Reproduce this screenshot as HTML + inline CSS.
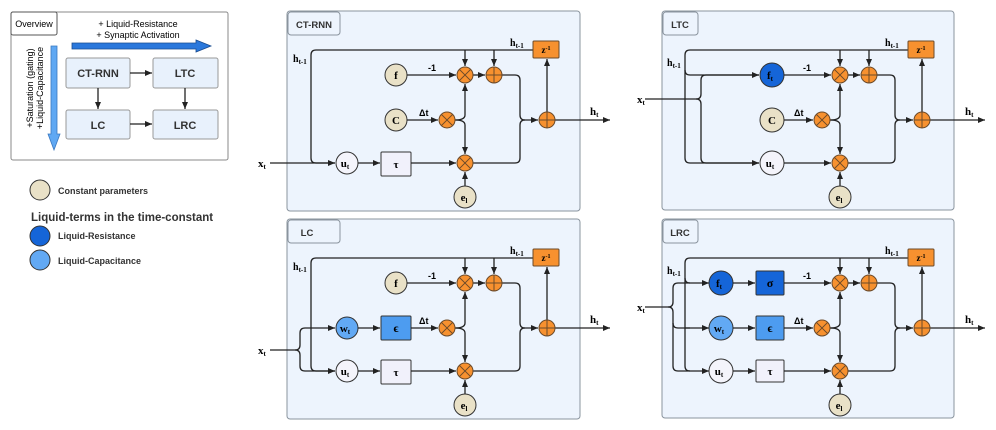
<!DOCTYPE html>
<html><head><meta charset="utf-8"><style>
body{margin:0;background:#fff}
svg{display:block}
.s{font-family:"Liberation Sans",sans-serif}
.r{font-family:"Liberation Serif",serif;font-weight:bold}
.ln{fill:none;stroke:#222;stroke-width:1.3}
.om{fill:#f7912f;stroke:#6b4a2a;stroke-width:1}
.ox{stroke:#6b4a2a;stroke-width:1}
</style></head><body>
<svg width="996" height="430" viewBox="0 0 996 430" xmlns="http://www.w3.org/2000/svg">
<defs>
<marker id="a" markerWidth="8" markerHeight="8" refX="7" refY="4" orient="auto" markerUnits="userSpaceOnUse"><path d="M0,1 L7,4 L0,7 Z" fill="#222"/></marker>
</defs>

<!-- Overview -->
<rect x="11" y="12" width="217" height="148" fill="#fff" stroke="#888" rx="2"/>
<rect x="11" y="12" width="46" height="23" fill="#fff" stroke="#555" rx="2"/>
<text x="34" y="27" class="s" font-size="9" text-anchor="middle">Overview</text>
<text x="138" y="27" class="s" font-size="9" text-anchor="middle">+ Liquid-Resistance</text>
<text x="138" y="38" class="s" font-size="9" text-anchor="middle">+ Synaptic Activation</text>
<polygon points="72,43 196,43 196,40 211,46 196,52 196,49 72,49" fill="#2a78dc" stroke="#1a4c90" stroke-width="0.8"/>
<polygon points="51,46 57,46 57,134 60,134 54,150 48,134 51,134" fill="#5fa8f3" stroke="#3a78c0" stroke-width="0.8"/>
<text transform="translate(33,88) rotate(-90)" class="s" font-size="9" text-anchor="middle">+Saturation (gating)</text>
<text transform="translate(43,88) rotate(-90)" class="s" font-size="9" text-anchor="middle">+Liquid-Capacitance</text>
<g class="s" font-size="11" font-weight="bold" text-anchor="middle" fill="#333">
<rect x="66" y="58" width="64" height="30" fill="#e8f1fc" stroke="#999" rx="2"/><text x="98" y="77">CT-RNN</text>
<rect x="153" y="58" width="65" height="30" fill="#e8f1fc" stroke="#999" rx="2"/><text x="185" y="77">LTC</text>
<rect x="66" y="110" width="64" height="29" fill="#e8f1fc" stroke="#999" rx="2"/><text x="98" y="129">LC</text>
<rect x="153" y="110" width="65" height="29" fill="#e8f1fc" stroke="#999" rx="2"/><text x="185" y="129">LRC</text>
</g>
<line x1="130" y1="73" x2="152" y2="73" class="ln" marker-end="url(#a)"/>
<line x1="98" y1="88" x2="98" y2="109" class="ln" marker-end="url(#a)"/>
<line x1="185" y1="88" x2="185" y2="109" class="ln" marker-end="url(#a)"/>
<line x1="130" y1="124" x2="152" y2="124" class="ln" marker-end="url(#a)"/>

<!-- Legend -->
<circle cx="40" cy="190" r="10" fill="#e9e1c7" stroke="#333"/>
<text x="58" y="194" class="s" font-size="9" font-weight="bold" fill="#333">Constant parameters</text>
<text x="31" y="221" class="s" font-size="11.5" font-weight="bold" fill="#333">Liquid-terms in the time-constant</text>
<circle cx="40" cy="236" r="10" fill="#1565d8" stroke="#333"/>
<text x="58" y="239" class="s" font-size="9" font-weight="bold" fill="#333">Liquid-Resistance</text>
<circle cx="40" cy="260" r="10" fill="#62a9f4" stroke="#333"/>
<text x="58" y="264" class="s" font-size="9" font-weight="bold" fill="#333">Liquid-Capacitance</text>

<!-- ===== CT-RNN ===== -->
<g>
<rect x="287" y="11" width="293" height="200" fill="#edf4fd" stroke="#8a949e" rx="3"/>
<rect x="288" y="12" width="52" height="23" fill="#edf4fd" stroke="#8a949e" rx="3"/>
<text x="314" y="28" class="s" font-size="9.5" font-weight="bold" text-anchor="middle" fill="#333">CT-RNN</text>
<path d="M533,50 H316 Q311,50 311,55 V158 Q311,163 316,163 H335" class="ln" marker-end="url(#a)"/>
<line x1="270" y1="163" x2="335" y2="163" class="ln"/>
<text x="258" y="167" class="r" font-size="11">x<tspan font-size="7" dy="2">t</tspan></text>
<text x="293" y="62" class="r" font-size="10" font-weight="normal">h<tspan font-size="7" dy="2">t-1</tspan></text>
<circle cx="396" cy="75" r="11" fill="#e9e1c7" stroke="#333"/><text x="396" y="79" class="r" font-size="11" text-anchor="middle">f</text>
<line x1="407" y1="75" x2="456" y2="75" class="ln" marker-end="url(#a)"/>
<circle cx="396" cy="120" r="11" fill="#e9e1c7" stroke="#333"/><text x="396" y="124" class="r" font-size="11" text-anchor="middle">C</text>
<line x1="407" y1="120" x2="438" y2="120" class="ln" marker-end="url(#a)"/>
<circle cx="347" cy="163" r="11" fill="#f4f4fb" stroke="#333"/><text x="345" y="167" class="r" font-size="11" text-anchor="middle">u<tspan font-size="7" dy="2">t</tspan></text>
<line x1="358" y1="163" x2="380" y2="163" class="ln" marker-end="url(#a)"/>
<rect x="381" y="152" width="30" height="24" fill="#f1f1fb" stroke="#333" rx="1"/><text x="396" y="168" class="r" font-size="11" text-anchor="middle">τ</text>
<line x1="411" y1="163" x2="456" y2="163" class="ln" marker-end="url(#a)"/>
</g>

<!-- ===== LC ===== -->
<g transform="translate(0,208)">
<rect x="287" y="11" width="293" height="200" fill="#edf4fd" stroke="#8a949e" rx="3"/>
<rect x="288" y="12" width="52" height="23" fill="#edf4fd" stroke="#8a949e" rx="3"/>
<text x="307" y="28" class="s" font-size="9.5" font-weight="bold" text-anchor="middle" fill="#333">LC</text>
<path d="M533,50 H316 Q311,50 311,55 V158 Q311,163 316,163 H335" class="ln" marker-end="url(#a)"/>
<path d="M270,142 H295 Q300,142 300,137 V125 Q300,120 305,120 H335" class="ln" marker-end="url(#a)"/>
<path d="M295,142 Q300,142 300,147 V158 Q300,163 305,163 H335" class="ln"/>
<text x="258" y="146" class="r" font-size="11">x<tspan font-size="7" dy="2">t</tspan></text>
<text x="293" y="62" class="r" font-size="10" font-weight="normal">h<tspan font-size="7" dy="2">t-1</tspan></text>
<circle cx="396" cy="75" r="11" fill="#e9e1c7" stroke="#333"/><text x="396" y="79" class="r" font-size="11" text-anchor="middle">f</text>
<line x1="407" y1="75" x2="456" y2="75" class="ln" marker-end="url(#a)"/>
<circle cx="347" cy="120" r="11" fill="#62a9f4" stroke="#333"/><text x="345" y="124" class="r" font-size="11" text-anchor="middle">w<tspan font-size="7" dy="2">t</tspan></text>
<line x1="358" y1="120" x2="380" y2="120" class="ln" marker-end="url(#a)"/>
<rect x="381" y="108" width="30" height="24" fill="#4d9cf0" stroke="#333" rx="1"/><text x="396" y="124" class="r" font-size="12" text-anchor="middle">ϵ</text>
<line x1="411" y1="120" x2="438" y2="120" class="ln" marker-end="url(#a)"/>
<circle cx="347" cy="163" r="11" fill="#f4f4fb" stroke="#333"/><text x="345" y="167" class="r" font-size="11" text-anchor="middle">u<tspan font-size="7" dy="2">t</tspan></text>
<line x1="358" y1="163" x2="380" y2="163" class="ln" marker-end="url(#a)"/>
<rect x="381" y="152" width="30" height="24" fill="#f1f1fb" stroke="#333" rx="1"/><text x="396" y="168" class="r" font-size="11" text-anchor="middle">τ</text>
<line x1="411" y1="163" x2="456" y2="163" class="ln" marker-end="url(#a)"/>
</g>

<!-- ===== LTC ===== -->
<g transform="translate(375,0)">
<rect x="287" y="11" width="292" height="199" fill="#edf4fd" stroke="#8a949e" rx="3"/>
<rect x="288" y="12" width="35" height="23" fill="#edf4fd" stroke="#8a949e" rx="3"/>
<text x="305" y="28" class="s" font-size="9.5" font-weight="bold" text-anchor="middle" fill="#333">LTC</text>
<path d="M533,50 H315 Q310,50 310,55 V158 Q310,163 315,163 H384" class="ln" marker-end="url(#a)"/>
<path d="M310,70 Q310,75 315,75 H384" class="ln" marker-end="url(#a)"/>
<path d="M270,99 H321 Q326,99 326,94 V80 Q326,75 331,75 H384" class="ln"/>
<path d="M321,99 Q326,99 326,104 V158 Q326,163 331,163 H384" class="ln"/>
<text x="262" y="103" class="r" font-size="11">x<tspan font-size="7" dy="2">t</tspan></text>
<text x="292" y="66" class="r" font-size="10" font-weight="normal">h<tspan font-size="7" dy="2">t-1</tspan></text>
<circle cx="397" cy="75" r="12" fill="#1565d8" stroke="#333"/><text x="395" y="79" class="r" font-size="11" text-anchor="middle">f<tspan font-size="7" dy="2">t</tspan></text>
<line x1="409" y1="75" x2="456" y2="75" class="ln" marker-end="url(#a)"/>
<circle cx="397" cy="120" r="12" fill="#e9e1c7" stroke="#333"/><text x="397" y="124" class="r" font-size="11" text-anchor="middle">C</text>
<line x1="409" y1="120" x2="438" y2="120" class="ln" marker-end="url(#a)"/>
<circle cx="397" cy="163" r="12" fill="#f4f4fb" stroke="#333"/><text x="395" y="167" class="r" font-size="11" text-anchor="middle">u<tspan font-size="7" dy="2">t</tspan></text>
<line x1="409" y1="163" x2="456" y2="163" class="ln" marker-end="url(#a)"/>
</g>

<!-- ===== LRC ===== -->
<g transform="translate(375,208)">
<rect x="287" y="11" width="292" height="199" fill="#edf4fd" stroke="#8a949e" rx="3"/>
<rect x="288" y="12" width="35" height="23" fill="#edf4fd" stroke="#8a949e" rx="3"/>
<text x="305" y="28" class="s" font-size="9.5" font-weight="bold" text-anchor="middle" fill="#333">LRC</text>
<path d="M533,50 H315 Q310,50 310,55 V158 Q310,163 315,163 H334" class="ln" marker-end="url(#a)"/>
<path d="M310,70 Q310,75 315,75 H334" class="ln" marker-end="url(#a)"/>
<path d="M310,120 H334" class="ln" marker-end="url(#a)"/>
<path d="M270,99 H293 Q298,99 298,94 V80 Q298,75 303,75 H315" class="ln"/>
<path d="M293,99 Q298,99 298,104 V158 Q298,163 303,163 H315" class="ln"/>
<path d="M298,115 Q298,120 303,120 H315" class="ln"/>
<text x="262" y="103" class="r" font-size="11">x<tspan font-size="7" dy="2">t</tspan></text>
<text x="292" y="66" class="r" font-size="10" font-weight="normal">h<tspan font-size="7" dy="2">t-1</tspan></text>
<circle cx="346" cy="75" r="12" fill="#1565d8" stroke="#333"/><text x="344" y="79" class="r" font-size="11" text-anchor="middle">f<tspan font-size="7" dy="2">t</tspan></text>
<line x1="358" y1="75" x2="380" y2="75" class="ln" marker-end="url(#a)"/>
<rect x="381" y="63" width="28" height="24" fill="#1565d8" stroke="#333" rx="1"/><text x="395" y="79" class="r" font-size="12" text-anchor="middle">σ</text>
<line x1="409" y1="75" x2="456" y2="75" class="ln" marker-end="url(#a)"/>
<circle cx="346" cy="120" r="12" fill="#62a9f4" stroke="#333"/><text x="344" y="124" class="r" font-size="11" text-anchor="middle">w<tspan font-size="7" dy="2">t</tspan></text>
<line x1="358" y1="120" x2="380" y2="120" class="ln" marker-end="url(#a)"/>
<rect x="381" y="108" width="28" height="24" fill="#4d9cf0" stroke="#333" rx="1"/><text x="395" y="124" class="r" font-size="12" text-anchor="middle">ϵ</text>
<line x1="409" y1="120" x2="438" y2="120" class="ln" marker-end="url(#a)"/>
<circle cx="346" cy="163" r="12" fill="#f4f4fb" stroke="#333"/><text x="344" y="167" class="r" font-size="11" text-anchor="middle">u<tspan font-size="7" dy="2">t</tspan></text>
<line x1="358" y1="163" x2="380" y2="163" class="ln" marker-end="url(#a)"/>
<rect x="381" y="152" width="28" height="22" fill="#f1f1fb" stroke="#333" rx="1"/><text x="395" y="167" class="r" font-size="11" text-anchor="middle">τ</text>
<line x1="409" y1="163" x2="456" y2="163" class="ln" marker-end="url(#a)"/>
</g>

<!-- common right parts -->
<g id="c1">
<line x1="465" y1="50" x2="465" y2="66" class="ln" marker-end="url(#a)"/>
<line x1="494" y1="50" x2="494" y2="66" class="ln" marker-end="url(#a)"/>
<rect x="533" y="41" width="26" height="17" class="om" rx="1"/>
<text x="546" y="53" class="r" font-size="9" text-anchor="middle">z<tspan font-size="6" dy="-3">-1</tspan></text>
<text x="510" y="46" class="r" font-size="10" font-weight="normal">h<tspan font-size="7" dy="2">t-1</tspan></text>
<line x1="473" y1="75" x2="485" y2="75" class="ln" marker-end="url(#a)"/>
<path d="M502,75 H515 Q520,75 520,80 V115 Q520,120 525,120 H538" class="ln" marker-end="url(#a)"/>
<path d="M473,163 H515 Q520,163 520,158 V125 Q520,120 525,120" class="ln"/>
<path d="M455,120 Q465,120 465,115 V84" class="ln" marker-end="url(#a)"/>
<path d="M455,120 Q465,120 465,125 V154" class="ln" marker-end="url(#a)"/>
<line x1="547" y1="112" x2="547" y2="59" class="ln" marker-end="url(#a)"/>
<line x1="555" y1="120" x2="610" y2="120" class="ln" marker-end="url(#a)"/>
<text x="590" y="115" class="r" font-size="11">h<tspan font-size="7" dy="2">t</tspan></text>
<line x1="465" y1="186" x2="465" y2="172" class="ln" marker-end="url(#a)"/>
<circle cx="465" cy="197" r="11" fill="#e9e1c7" stroke="#333"/><text x="464" y="201" class="r" font-size="11" text-anchor="middle">e<tspan font-size="7" dy="2">l</tspan></text>
<text x="428" y="71" class="s" font-size="9" font-weight="bold">-1</text>
<text x="419" y="116" class="s" font-size="9" font-weight="bold">Δt</text>
<circle cx="465" cy="75" r="8" class="om"/><path d="M459.3,69.3 L470.7,80.7 M470.7,69.3 L459.3,80.7" class="ox"/>
<circle cx="494" cy="75" r="8" class="om"/><path d="M486,75 H502 M494,67 V83" class="ox"/>
<circle cx="447" cy="120" r="8" class="om"/><path d="M441.3,114.3 L452.7,125.7 M452.7,114.3 L441.3,125.7" class="ox"/>
<circle cx="465" cy="163" r="8" class="om"/><path d="M459.3,157.3 L470.7,168.7 M470.7,157.3 L459.3,168.7" class="ox"/>
<circle cx="547" cy="120" r="8" class="om"/><path d="M539,120 H555 M547,112 V128" class="ox"/>
</g>
<use href="#c1" transform="translate(0,208)"/>
<use href="#c1" transform="translate(375,0)"/>
<use href="#c1" transform="translate(375,208)"/>
</svg>
</body></html>
